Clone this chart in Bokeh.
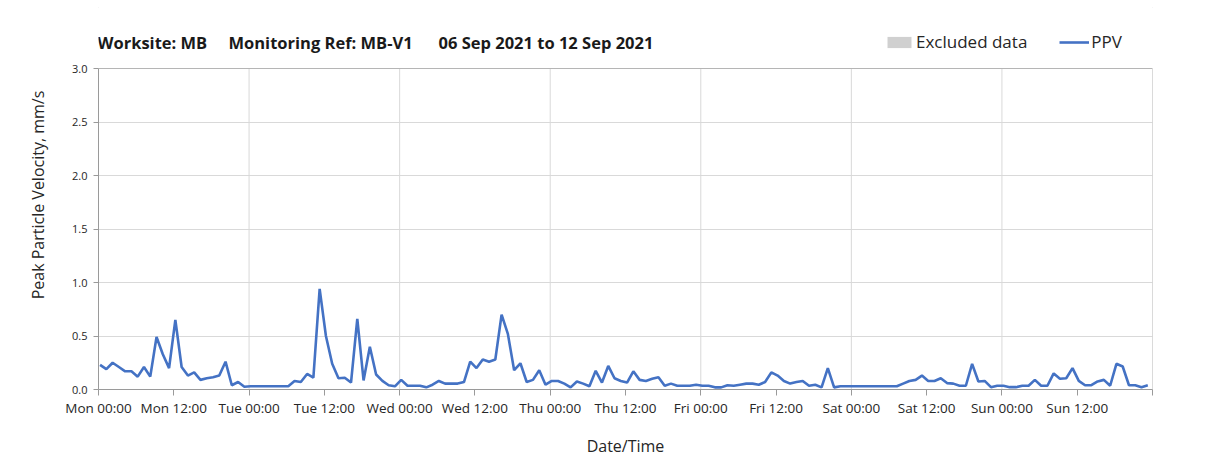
from bokeh.plotting import figure
from bokeh.models import FixedTicker, Label, Legend, LegendItem, Range1d, PrintfTickFormatter, ColumnDataSource
from bokeh.embed import file_html
from bokeh.resources import INLINE

# hourly samples, hours after Mon 00:00 (first sample at 00:15)
hours = [i + 0.25 for i in range(168)]
ppv = [
    0.23, 0.19, 0.25, 0.21, 0.17, 0.17, 0.12, 0.21, 0.12, 0.49, 0.33, 0.20,
    0.65, 0.21, 0.13, 0.16, 0.09, 0.105, 0.115, 0.13, 0.26, 0.04, 0.07, 0.025,
    0.03, 0.03, 0.03, 0.03, 0.03, 0.03, 0.03, 0.08, 0.07, 0.145, 0.11, 0.94,
    0.50, 0.24, 0.105, 0.11, 0.065, 0.66, 0.085, 0.40, 0.14, 0.08, 0.04, 0.03,
    0.09, 0.035, 0.035, 0.035, 0.02, 0.045, 0.08, 0.055, 0.055, 0.055, 0.07, 0.26,
    0.20, 0.28, 0.26, 0.28, 0.70, 0.52, 0.18, 0.245, 0.07, 0.09, 0.18, 0.045,
    0.08, 0.08, 0.055, 0.02, 0.075, 0.055, 0.03, 0.175, 0.065, 0.22, 0.105, 0.08,
    0.065, 0.17, 0.09, 0.08, 0.10, 0.115, 0.035, 0.055, 0.035, 0.035, 0.035, 0.045,
    0.035, 0.035, 0.02, 0.02, 0.04, 0.035, 0.045, 0.055, 0.055, 0.045, 0.07, 0.16,
    0.13, 0.08, 0.055, 0.07, 0.08, 0.035, 0.045, 0.02, 0.20, 0.02, 0.03, 0.03,
    0.03, 0.03, 0.03, 0.03, 0.03, 0.03, 0.03, 0.03, 0.055, 0.08, 0.09, 0.13,
    0.08, 0.08, 0.105, 0.06, 0.055, 0.035, 0.035, 0.24, 0.075, 0.08, 0.022, 0.035,
    0.035, 0.022, 0.022, 0.035, 0.035, 0.09, 0.035, 0.035, 0.15, 0.10, 0.105, 0.20,
    0.08, 0.04, 0.04, 0.075, 0.09, 0.035, 0.24, 0.215, 0.04, 0.04, 0.022, 0.04,
]
assert len(ppv) == len(hours)

# no excluded periods in this week
excluded_start = [float("nan")]
excluded_end = [float("nan")]

tick_hours = [0, 12, 24, 36, 48, 60, 72, 84, 96, 108, 120, 132, 144, 156, 168]
tick_labels = ["Mon 00:00", "Mon 12:00", "Tue 00:00", "Tue 12:00", "Wed 00:00",
               "Wed 12:00", "Thu 00:00", "Thu 12:00", "Fri 00:00", "Fri 12:00",
               "Sat 00:00", "Sat 12:00", "Sun 00:00", "Sun 12:00", ""]
grid_hours = [24, 48, 72, 96, 120, 144]
y_ticks = [0.0, 0.5, 1.0, 1.5, 2.0, 2.5, 3.0]

X_START, X_END = 0, 168
Y_MAX = 3.0

FONT = "Open Sans"
TEXT_C = "#262626"
AXIS_C = "#9a9a9a"
GRID_C = "#d9d9d9"
FRAME_C = "#b5b5b5"

PLOT_H = 321     # height of the 0..3 data area in px
HEADER = 68      # space above the data area (title + legend row)

p = figure(frame_width=1054, frame_height=PLOT_H + HEADER,
           x_range=Range1d(X_START, X_END),
           y_range=Range1d(0, Y_MAX * (PLOT_H + HEADER) / PLOT_H),
           output_backend="svg", toolbar_location=None,
           min_border_left=98, min_border_right=53,
           min_border_top=0, min_border_bottom=87)
p.outline_line_color = None
p.background_fill_color = "white"
p.border_fill_color = "white"
p.styles = {"outline": "1px solid #d9d9d9", "outline-offset": "-8px"}

# x axis
p.xaxis.ticker = FixedTicker(ticks=tick_hours)
p.xaxis.major_label_overrides = {t: l for t, l in zip(tick_hours, tick_labels)}
p.xaxis.minor_tick_line_color = None
p.xaxis.major_tick_in = 0
p.xaxis.major_tick_out = 6
p.xaxis.axis_line_color = AXIS_C
p.xaxis.major_tick_line_color = AXIS_C
p.xaxis.major_label_text_font = FONT
p.xaxis.major_label_text_font_size = "13.5px"
p.xaxis.major_label_text_color = TEXT_C
p.xaxis.major_label_standoff = 3
p.xaxis.axis_label = "Date/Time"
p.xaxis.axis_label_text_font = FONT
p.xaxis.axis_label_text_font_size = "16px"
p.xaxis.axis_label_text_font_style = "normal"
p.xaxis.axis_label_text_color = TEXT_C
p.xaxis.axis_label_standoff = 15
p.xgrid.grid_line_color = None

# y axis
p.yaxis.ticker = FixedTicker(ticks=y_ticks)
p.yaxis.bounds = (0, Y_MAX)
p.yaxis.formatter = PrintfTickFormatter(format="%.1f")
p.yaxis.minor_tick_line_color = None
p.yaxis.major_tick_in = 0
p.yaxis.major_tick_out = 5
p.yaxis.axis_line_color = AXIS_C
p.yaxis.major_tick_line_color = AXIS_C
p.yaxis.major_label_text_font = FONT
p.yaxis.major_label_text_font_size = "11px"
p.yaxis.major_label_text_color = TEXT_C
p.yaxis.major_label_standoff = 6
p.yaxis.axis_label = "Peak Particle Velocity, mm/s"
p.yaxis.axis_label_text_font = FONT
p.yaxis.axis_label_text_font_size = "16px"
p.yaxis.axis_label_text_font_style = "normal"
p.yaxis.axis_label_text_color = TEXT_C
p.yaxis.axis_label_standoff = 20
p.ygrid.grid_line_color = GRID_C

# vertical day grid lines, limited to the data area
p.segment(x0=grid_hours, x1=grid_hours, y0=[0] * len(grid_hours), y1=[Y_MAX] * len(grid_hours),
          line_color=GRID_C, line_width=1)
# frame (top and right edges)
p.segment(x0=[X_START, X_END], x1=[X_END, X_END], y0=[Y_MAX, 0], y1=[Y_MAX, Y_MAX],
          line_color=FRAME_C, line_width=1)

src = ColumnDataSource(data=dict(h=hours, v=ppv))
excl = p.quad(left=excluded_start, right=excluded_end,
              bottom=[0] * len(excluded_start), top=[Y_MAX] * len(excluded_start),
              fill_color="#d0d0d0", line_color=None)
ln = p.line("h", "v", source=src, line_color="#4472C4", line_width=2.6)

legend = Legend(items=[LegendItem(label="Excluded data", renderers=[excl]),
                       LegendItem(label="PPV", renderers=[ln])],
                location=(786, PLOT_H + HEADER - 53), orientation="horizontal",
                padding=0, margin=0, spacing=32,
                glyph_width=30, glyph_height=14, label_standoff=2,
                border_line_color=None, background_fill_alpha=0,
                label_text_font=FONT, label_text_font_size="17px",
                label_text_color=TEXT_C)
p.add_layout(legend)

title_parts = [("Worksite: MB", -1), ("Monitoring Ref: MB-V1", 130), ("06 Sep 2021 to 12 Sep 2021", 340)]
for txt, xo in title_parts:
    p.add_layout(Label(x=xo, y=PLOT_H + HEADER - 42, x_units="screen", y_units="screen", text=txt,
                       text_font=FONT, text_font_style="bold", text_font_size="16.5px",
                       text_baseline="middle", text_color="#1a1a1a"))

open("out.html", "w").write(file_html(p, INLINE))
